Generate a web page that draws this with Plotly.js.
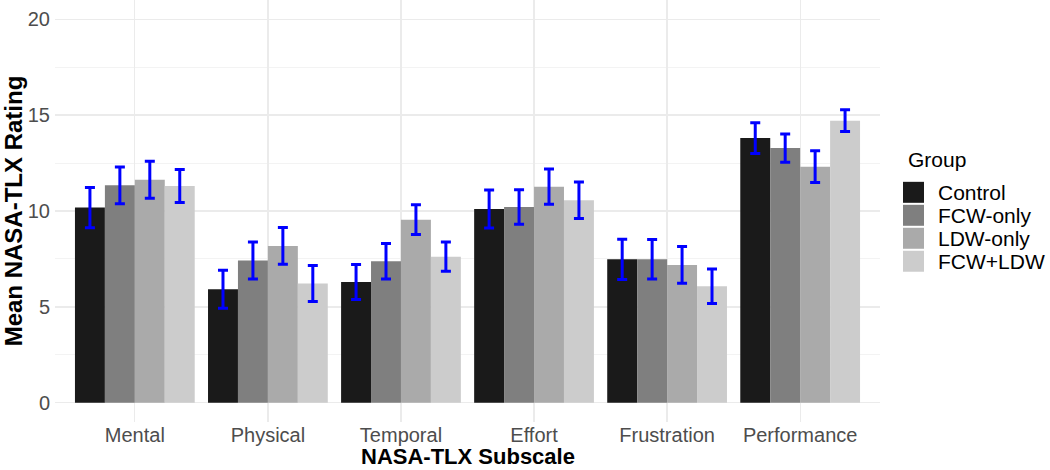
<!doctype html>
<html><head><meta charset="utf-8" />
<script src="https://cdn.plot.ly/plotly-3.0.1.min.js"></script>
<style>
  body { margin:0; background:#fff; }
  #chart { width:1050px; height:470px; }
</style></head>
<body>
<div id="chart"></div>
<script>
// NASA-TLX 하위척도별 평균 (그룹 4개) + 오차막대
const subscales = ['Mental', 'Physical', 'Temporal', 'Effort', 'Frustration', 'Performance'];
const groups = ['Control', 'FCW-only', 'LDW-only', 'FCW+LDW'];
const fills = ['#1a1a1a', '#7f7f7f', '#aaaaaa', '#cccccc'];

const controlMean = [10.18, 5.92, 6.30, 10.10, 7.48, 13.80];
const controlErr  = [1.05, 0.99, 0.91, 0.99, 1.05, 0.80];
const fcwMean     = [11.34, 7.42, 7.38, 10.21, 7.48, 13.28];
const fcwErr      = [0.96, 0.96, 0.92, 0.90, 1.03, 0.74];
const ldwMean     = [11.63, 8.18, 9.55, 11.27, 7.19, 12.31];
const ldwErr      = [0.97, 0.96, 0.78, 0.92, 0.96, 0.83];
const bothMean    = [11.30, 6.22, 7.62, 10.56, 6.08, 14.71];
const bothErr     = [0.86, 0.94, 0.76, 0.95, 0.90, 0.57];

const means = [controlMean, fcwMean, ldwMean, bothMean];
const errs = [controlErr, fcwErr, ldwErr, bothErr];

const FONT = 'Liberation Sans, Arial, sans-serif';
const GRID = '#ebebeb';

const traces = groups.map((g, i) => ({
  type: 'bar', name: g, x: subscales, y: means[i],
  marker: { color: fills[i], line: { width: 0 } },
  error_y: { type: 'data', array: errs[i], color: '#0000ff', thickness: 3, width: 5 },
  hovertemplate: '%{x} · ' + g + ': %{y:.2f}<extra></extra>',
}));

// 범례·x축 제목: 플롯 영역(55..880px, 0..422px) 기준 paper 좌표로 배치
const PX0 = 55, PW = 825, PH = 422.4;
const px = (x) => (x - PX0) / PW;
const py = (y) => (PH - y) / PH;
const KEY = 21, STEP = 23, KEY_X = 903, KEY_Y = 182;

const shapes = groups.map((g, i) => ({
  type: 'rect', xref: 'paper', yref: 'paper',
  x0: px(KEY_X), x1: px(KEY_X + KEY),
  y0: py(KEY_Y + i * STEP + KEY), y1: py(KEY_Y + i * STEP),
  fillcolor: fills[i], line: { width: 0 },
}));
const annotations = [
  { xref: 'paper', yref: 'paper', x: px(KEY_X + 3), y: py(160), xanchor: 'left', yanchor: 'middle',
    text: 'Group', showarrow: false, font: { family: FONT, size: 21, color: '#000' } },
  ...groups.map((g, i) => ({
    xref: 'paper', yref: 'paper', x: px(936), y: py(KEY_Y + i * STEP + KEY / 2),
    xanchor: 'left', yanchor: 'middle', text: g, showarrow: false,
    font: { family: FONT, size: 21, color: '#000' },
  })),
  { xref: 'paper', yref: 'paper', x: 0.5, y: py(470), xanchor: 'center', yanchor: 'bottom',
    text: '<b>NASA-TLX Subscale</b>', showarrow: false, borderpad: 0,
    font: { family: FONT, size: 22, color: '#000' } },
];

const layout = {
  width: 1050, height: 470,
  paper_bgcolor: '#fff', plot_bgcolor: '#fff',
  font: { family: FONT, color: '#4d4d4d' },
  showlegend: false,
  barmode: 'group', bargap: 0.1, bargroupgap: 0,
  margin: { l: PX0, r: 1050 - PX0 - PW, t: 0, b: 470 - PH },
  xaxis: {
    type: 'category', range: [-0.6, 5.6],
    showgrid: true, gridcolor: GRID, gridwidth: 1.3, zeroline: false, showline: false,
    ticks: '', ticklabelstandoff: -1, tickfont: { family: FONT, size: 20, color: '#4d4d4d' },
  },
  yaxis: {
    range: [-1, 21], tickvals: [0, 5, 10, 15, 20],
    showgrid: true, gridcolor: GRID, gridwidth: 1.3, zeroline: false, showline: false,
    minor: { tickvals: [2.5, 7.5, 12.5, 17.5], showgrid: true, gridcolor: '#f0f0f0', gridwidth: 0.8 },
    ticks: '', ticklabelstandoff: 4, tickfont: { family: FONT, size: 20, color: '#4d4d4d' },
    title: { text: 'Mean NASA-TLX Rating', standoff: 8, font: { family: FONT, size: 24, color: '#000', weight: 'bold' } },
  },
  shapes, annotations,
};

Plotly.newPlot('chart', traces, layout, { displayModeBar: false, staticPlot: true });
</script>
</body></html>
